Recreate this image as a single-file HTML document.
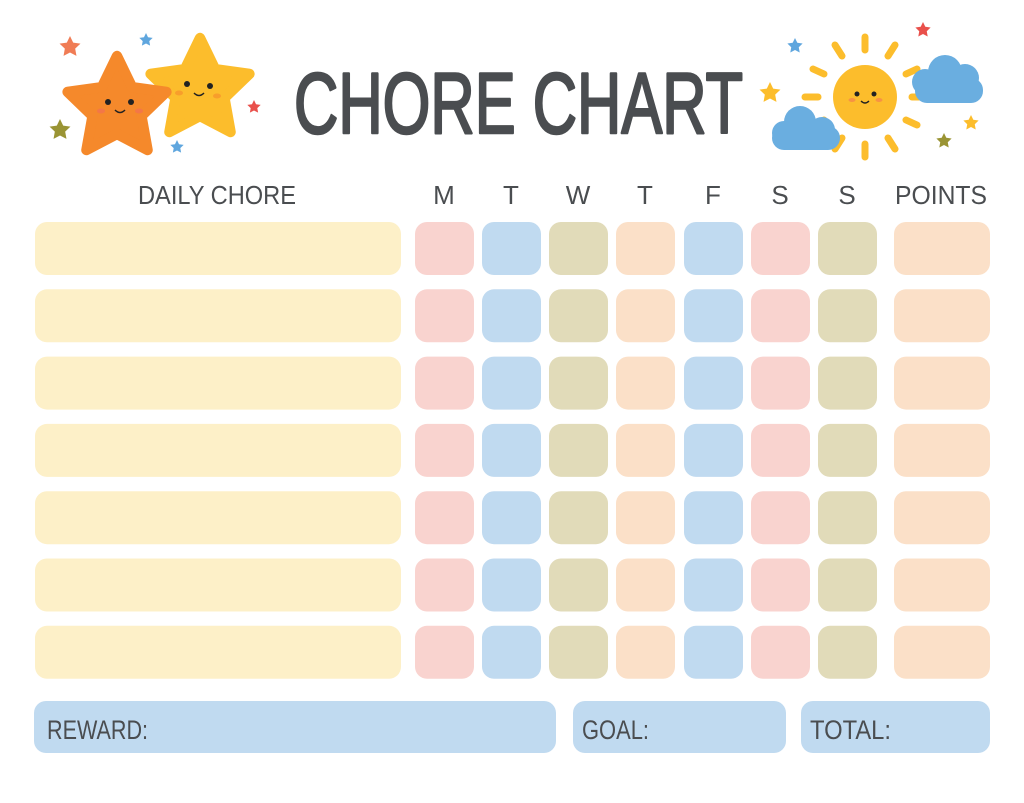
<!DOCTYPE html>
<html><head><meta charset="utf-8"><style>html,body{margin:0;padding:0;background:#fff}svg{display:block}</style></head>
<body>
<svg width="1024" height="803" viewBox="0 0 1024 803" xmlns="http://www.w3.org/2000/svg" font-family="Liberation Sans, sans-serif">
<defs>
<path id="st" d="M0,-1 L0.29,-0.40 L0.951,-0.309 L0.47,0.153 L0.588,0.809 L0,0.50 L-0.588,0.809 L-0.47,0.153 L-0.951,-0.309 L-0.29,-0.40Z"/>
</defs>
<rect width="1024" height="803" fill="#fff"/>
<!-- left stars -->
<use href="#st" transform="translate(200,90) scale(52)" fill="#fcbd2c" stroke="#fcbd2c" stroke-width="0.2" stroke-linejoin="round"/>
<use href="#st" transform="translate(117,108) scale(52)" fill="#f5892b" stroke="#f5892b" stroke-width="0.2" stroke-linejoin="round"/>
<circle cx="108" cy="102" r="3" fill="#222"/><circle cx="131" cy="102" r="3" fill="#222"/>
<path d="M115,110 q5,5 10,0" stroke="#222" stroke-width="1.5" fill="none"/>
<ellipse cx="101" cy="111" rx="4" ry="2.5" fill="#f26a5a" opacity=".6"/><ellipse cx="139" cy="111" rx="4" ry="2.5" fill="#f26a5a" opacity=".6"/>
<circle cx="187" cy="84" r="3" fill="#222"/><circle cx="210" cy="86" r="3" fill="#222"/>
<path d="M194,93 q5,5 10,0" stroke="#222" stroke-width="1.5" fill="none"/>
<ellipse cx="179" cy="93" rx="4" ry="2.5" fill="#f5892b" opacity=".6"/><ellipse cx="217" cy="96" rx="4" ry="2.5" fill="#f5892b" opacity=".6"/>
<use href="#st" transform="translate(70,47) scale(11)" fill="#f07c55"/>
<use href="#st" transform="translate(146,40) scale(7)" fill="#5fa6de"/>
<use href="#st" transform="translate(60,130) scale(11)" fill="#9a9434"/>
<use href="#st" transform="translate(254,107) scale(7)" fill="#e9504b"/>
<use href="#st" transform="translate(177,147) scale(7)" fill="#5fa6de"/>
<!-- right sun -->
<g stroke="#fcbd2c" stroke-width="7" stroke-linecap="round">
<line x1="865" y1="50" x2="865" y2="37"/><line x1="865" y1="144" x2="865" y2="157"/>
<line x1="818" y1="97" x2="805" y2="97"/><line x1="912" y1="97" x2="924" y2="97"/>
<line x1="842" y1="56" x2="835" y2="45"/><line x1="888" y1="56" x2="895" y2="45"/>
<line x1="842" y1="138" x2="835" y2="149"/><line x1="888" y1="138" x2="895" y2="149"/>
<line x1="824" y1="74" x2="813" y2="69"/><line x1="906" y1="74" x2="917" y2="69"/>
<line x1="824" y1="120" x2="813" y2="125"/><line x1="906" y1="120" x2="917" y2="125"/>
</g>
<circle cx="865" cy="97" r="32" fill="#fcbd2c"/>
<circle cx="857" cy="94" r="2.5" fill="#222"/><circle cx="874" cy="94" r="2.5" fill="#222"/>
<path d="M861,101 q4,4 8,0" stroke="#222" stroke-width="1.4" fill="none"/>
<ellipse cx="852" cy="100" rx="3.5" ry="2" fill="#f26a5a" opacity=".5"/><ellipse cx="879" cy="100" rx="3.5" ry="2" fill="#f26a5a" opacity=".5"/>
<g fill="#6aaee0">
<circle cx="945" cy="72" r="17"/><circle cx="965" cy="78" r="14"/><circle cx="925" cy="82" r="13"/><rect x="915" y="78" width="68" height="25" rx="12"/>
<circle cx="800" cy="122" r="16"/><circle cx="822" cy="130" r="13"/><circle cx="784" cy="133" r="12"/><rect x="772" y="126" width="68" height="24" rx="12"/>
</g>
<use href="#st" transform="translate(923,30) scale(8)" fill="#e9504b"/>
<use href="#st" transform="translate(795,46) scale(8)" fill="#5fa6de"/>
<use href="#st" transform="translate(770,93) scale(11)" fill="#fcbd2c"/>
<use href="#st" transform="translate(971,123) scale(8)" fill="#fcbd2c"/>
<use href="#st" transform="translate(944,141) scale(8)" fill="#9a9434"/>
<!-- title -->
<text x="294" y="133" font-size="86" fill="#4a4d50" stroke="#4a4d50" stroke-width="2.5" stroke-linejoin="round" textLength="449" lengthAdjust="spacingAndGlyphs">CHORE CHART</text>
<!-- headers -->
<g font-size="26" fill="#4a4d50" text-anchor="middle">
<text x="217" y="204" textLength="158" lengthAdjust="spacingAndGlyphs">DAILY CHORE</text>
<text x="444" y="204">M</text><text x="511" y="204">T</text><text x="578" y="204">W</text><text x="645" y="204">T</text><text x="713" y="204">F</text><text x="780" y="204">S</text><text x="847" y="204">S</text>
<text x="941" y="204" textLength="92" lengthAdjust="spacingAndGlyphs">POINTS</text>
</g>
<!-- rows -->
<g id="row">
<rect x="35" y="222" width="366" height="53" rx="12" fill="#fdf0c8"/>
<rect x="415" y="222" width="59" height="53" rx="12" fill="#f9d3cf"/>
<rect x="482" y="222" width="59" height="53" rx="12" fill="#c0daf0"/>
<rect x="549" y="222" width="59" height="53" rx="12" fill="#e1dbb9"/>
<rect x="616" y="222" width="59" height="53" rx="12" fill="#fbe0c8"/>
<rect x="684" y="222" width="59" height="53" rx="12" fill="#c0daf0"/>
<rect x="751" y="222" width="59" height="53" rx="12" fill="#f9d3cf"/>
<rect x="818" y="222" width="59" height="53" rx="12" fill="#e1dbb9"/>
<rect x="894" y="222" width="96" height="53" rx="12" fill="#fbe0c8"/>
</g>
<use href="#row" y="67.3"/><use href="#row" y="134.6"/><use href="#row" y="201.9"/><use href="#row" y="269.2"/><use href="#row" y="336.5"/><use href="#row" y="403.8"/>
<!-- bottom -->
<rect x="34" y="701" width="522" height="52" rx="12" fill="#c0daf0"/>
<rect x="573" y="701" width="213" height="52" rx="12" fill="#c0daf0"/>
<rect x="801" y="701" width="189" height="52" rx="12" fill="#c0daf0"/>
<g font-size="27" fill="#4a4d50">
<text x="47" y="739" textLength="101" lengthAdjust="spacingAndGlyphs">REWARD:</text>
<text x="582" y="739" textLength="67" lengthAdjust="spacingAndGlyphs">GOAL:</text>
<text x="810" y="739" textLength="81" lengthAdjust="spacingAndGlyphs">TOTAL:</text>
</g>
</svg>
</body></html>
